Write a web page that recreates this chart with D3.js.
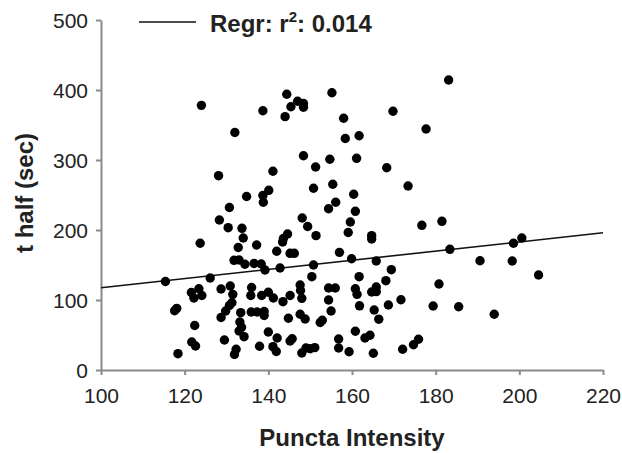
<!DOCTYPE html>
<html>
<head>
<meta charset="utf-8">
<script src="https://cdn.jsdelivr.net/npm/d3@7"></script>
<style>
html,body{margin:0;padding:0;background:#fff;}
svg{display:block;}
text{font-family:"Liberation Sans",Arial,sans-serif;}
</style>
</head>
<body>
<svg id="chart" width="622" height="453"></svg>
<script>
// Puncta intensity (x) values
const intensity = [
115.4,118.1,117.6,118.4,121.6,122.2,123.4,124.1,123.7,122.4,121.7,122.6,126.1,128.3,130.4,130.7,134.8,
128.7,130.9,131.5,128.7,129.8,130.7,131.3,129.5,131.9,132.3,133.7,134.0,132.8,131.8,133.0,134.4,133.4,
133.2,133.6,133.0,134.2,128.1,132.0,124.0,
137.2,136.6,138.3,139.2,136.0,135.8,138.4,140.0,141.2,143.5,145.2,147.6,147.7,148.0,135.9,137.3,139.0,
139.0,144.8,147.6,148.8,140.0,142.1,145.2,145.7,137.9,141.1,141.9,148.0,149.0,150.0,142.0,143.4,143.6,
144.6,145.2,146.2,142.8,138.7,144.4,144.0,145.4,147.0,148.4,148.4,141.1,138.7,140.1,138.8,148.1,149.4,
148.4,151.3,150.8,155.2,158.0,158.4,154.7,155.4,156.1,154.4,151.4,157.0,150.8,150.4,154.4,156.0,154.4,
155.0,152.4,152.9,156.8,156.8,159.3,159.6,159.1,151.1,
160.4,160.8,161.7,161.1,168.3,169.8,177.7,173.4,164.7,164.7,176.7,181.5,159.9,165.8,169.4,161.7,168.1,
180.8,160.8,161.2,164.7,165.8,165.8,171.7,161.8,165.3,168.7,179.4,166.4,160.8,163.1,164.3,174.7,175.9,
165.1,172.1,183.1,
183.4,198.6,200.6,190.6,198.3,204.6,185.5,194.0
];
// t half (sec) values, same order
const tHalf = [
126.4,88.1,84.7,23.3,110.7,102.9,116.1,106.4,181.0,63.6,40.0,34.3,131.4,214.3,203.3,232.1,247.9,
115.7,120.0,108.1,75.0,84.3,92.1,96.1,42.9,22.1,29.7,202.4,188.6,175.0,156.7,157.1,151.1,81.9,
68.6,61.1,55.7,47.6,277.6,339.3,378.1,
178.6,152.1,151.4,142.9,117.9,106.4,106.4,111.0,102.9,97.6,106.4,121.4,113.6,102.4,82.9,82.9,83.6,
77.9,73.9,79.6,72.9,54.3,45.7,41.4,44.7,33.9,33.3,26.4,24.3,31.4,30.3,169.7,182.9,187.9,
194.3,166.7,166.7,145.7,370.4,394.0,361.9,376.1,383.9,380.7,375.3,283.9,249.3,256.7,239.6,217.1,205.0,
306.1,290.0,259.6,396.1,359.6,330.7,301.1,265.3,239.6,230.4,191.9,168.1,150.0,133.3,117.1,117.1,100.0,
84.3,67.9,71.0,44.3,31.4,26.1,211.4,196.4,31.9,
251.0,226.7,334.7,302.4,289.0,369.7,344.3,262.9,191.9,187.1,206.7,212.4,159.0,155.7,143.3,133.3,127.6,
122.9,116.0,108.1,111.4,118.6,111.9,100.4,91.7,85.7,92.9,91.4,72.6,55.3,45.7,49.6,36.1,43.9,
23.9,29.6,414.3,
172.4,181.0,188.6,156.1,155.7,135.7,90.4,79.7
];
// Regression line parameters
const regrIntercept = 52.3;
const regrSlope = 0.653;
const regrR2 = "0.014";
// Axes
const xDomain = [100, 220];
const yDomain = [0, 500];
const xTicks = [100, 120, 140, 160, 180, 200, 220];
const yTicks = [0, 100, 200, 300, 400, 500];
const xTitle = "Puncta Intensity";
const yTitle = "t half (sec)";

(function () {
const svg = d3.select("#chart");
const mLeft = 101, mRight = 603, mTop = 20, mBottom = 370;
const x = d3.scaleLinear().domain(xDomain).range([mLeft, mRight]);
const y = d3.scaleLinear().domain(yDomain).range([mBottom, mTop]);

const axisColor = "#8a8a8a";

const gx = svg.append("g").attr("transform", `translate(0,${mBottom})`)
  .call(d3.axisBottom(x).tickValues(xTicks).tickSize(5).tickSizeOuter(0).tickPadding(10));
const gy = svg.append("g").attr("transform", `translate(${mLeft},0)`)
  .call(d3.axisLeft(y).tickValues(yTicks).tickSize(5).tickSizeOuter(0).tickPadding(8));
[gx, gy].forEach(g => {
  g.select(".domain").attr("stroke", axisColor).attr("stroke-width", 2);
  g.selectAll(".tick line").attr("stroke", axisColor).attr("stroke-width", 2);
  g.selectAll(".tick text").attr("fill", "#222").style("font-size", "21px")
    .style("font-family", "'Liberation Sans',Arial,sans-serif");
});
gx.selectAll(".tick text").attr("dy", "0.85em");
gy.selectAll(".tick text").attr("dy", "0.35em");

const lineData = xDomain.map(v => [v, regrIntercept + regrSlope * v]);
svg.append("path")
  .attr("d", d3.line().x(d => x(d[0])).y(d => y(d[1]))(lineData))
  .attr("stroke", "#111").attr("stroke-width", 1.6).attr("fill", "none");

const pts = intensity.map((v, i) => ({x: v, y: tHalf[i]}));
svg.append("g").selectAll("circle").data(pts).join("circle")
  .attr("cx", d => x(d.x)).attr("cy", d => y(d.y)).attr("r", 4.7).attr("fill", "#000");

svg.append("line").attr("x1", 139).attr("x2", 196).attr("y1", 22).attr("y2", 22)
  .attr("stroke", "#111").attr("stroke-width", 1.6);
const lt = svg.append("text").attr("x", 210).attr("y", 32)
  .style("font-size", "24px").style("font-weight", "bold").attr("fill", "#222");
lt.append("tspan").text("Regr: r");
lt.append("tspan").text("2").style("font-size", "15px").attr("dy", -10);
lt.append("tspan").text(": " + regrR2).attr("dy", 10);

svg.append("text").attr("x", (mLeft + mRight) / 2).attr("y", 446).attr("text-anchor", "middle")
  .style("font-size", "24px").style("font-weight", "bold").attr("fill", "#222").text(xTitle);
svg.append("text").attr("transform", `translate(33,193) rotate(-90)`)
  .attr("text-anchor", "middle")
  .style("font-size", "24px").style("font-weight", "bold").attr("fill", "#222").text(yTitle);
})();
</script>
</body>
</html>
